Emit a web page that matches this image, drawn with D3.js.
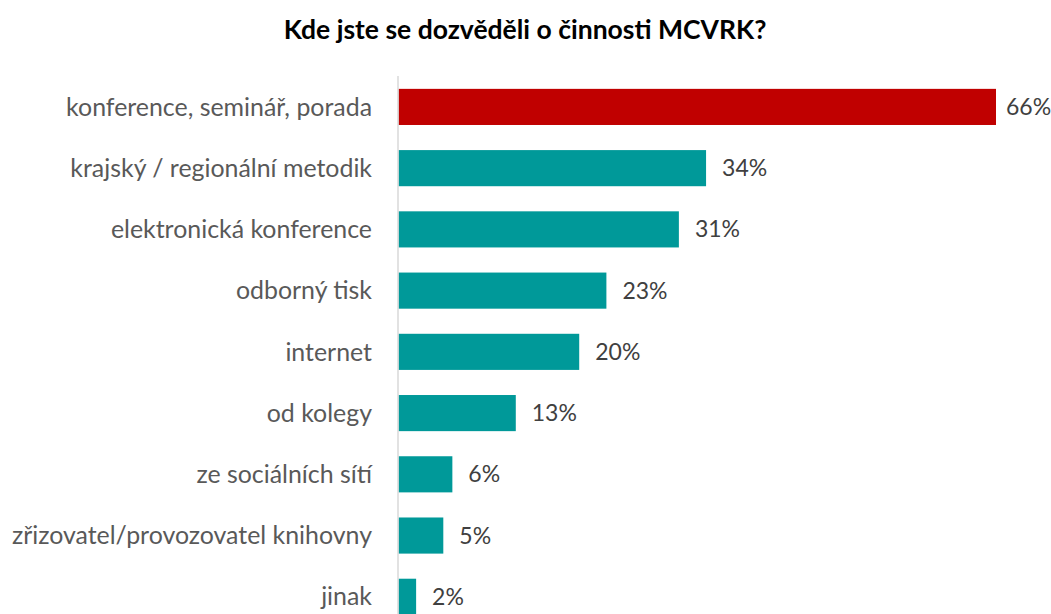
<!DOCTYPE html>
<html><head><meta charset="utf-8">
<script src="https://cdn.jsdelivr.net/npm/d3@7"></script>
<style>body{margin:0;background:#fff}svg{display:block}</style>
</head><body>
<svg id="c" width="1051" height="614"></svg>
<script>
const categories = ["konference, seminář, porada","krajský / regionální metodik","elektronická konference","odborný tisk","internet","od kolegy","ze sociálních sítí","zřizovatel/provozovatel knihovny","jinak"];
const values = [66,34,31,23,20,13,6,5,2];
const valueLabels = ["66%","34%","31%","23%","20%","13%","6%","5%","2%"];
const highlight = ["konference, seminář, porada"];

const svg = d3.select("#c");
const font = "Lato, 'Open Sans', sans-serif";
const x0 = 398;
const x = d3.scaleLinear().domain([0,66]).range([x0, 996]);
const y = d3.scaleBand().domain(categories).range([76, 76+61.3*9]).paddingInner(0.41).paddingOuter(0.21);

svg.append("text").attr("x",525).attr("y",39).attr("text-anchor","middle")
  .attr("font-family",font).attr("font-weight","bold").attr("font-size",26.5).attr("fill","#000")
  .text("Kde jste se dozvěděli o činnosti MCVRK?");

svg.selectAll("rect.bar").data(categories).join("rect").attr("class","bar")
  .attr("x",x(0)+0.5).attr("y",d=>y(d)).attr("height",y.bandwidth())
  .attr("width",(d,i)=>x(values[i])-x(0)-0.5)
  .attr("fill",d=>highlight.includes(d)?"#c00000":"#009999");

svg.append("line").attr("x1",x0).attr("x2",x0).attr("y1",76).attr("y2",614)
  .attr("stroke","#d9d9d9").attr("stroke-width",1.5);

svg.selectAll("text.cat").data(categories).join("text").attr("class","cat")
  .attr("x",372).attr("y",d=>y(d)+y.bandwidth()/2).attr("dy","0.35em").attr("text-anchor","end")
  .attr("font-family",font).attr("font-size",24.9).attr("fill","#595959").text(d=>d);

svg.selectAll("text.val").data(categories).join("text").attr("class","val")
  .attr("x",(d,i)=>i===0? x(values[i])+10 : x(values[i])+16).attr("y",d=>y(d)+y.bandwidth()/2).attr("dy","0.35em")
  .attr("font-family",font).attr("font-size",23).attr("fill","#404040").text((d,i)=>valueLabels[i]);
</script>
</body></html>
